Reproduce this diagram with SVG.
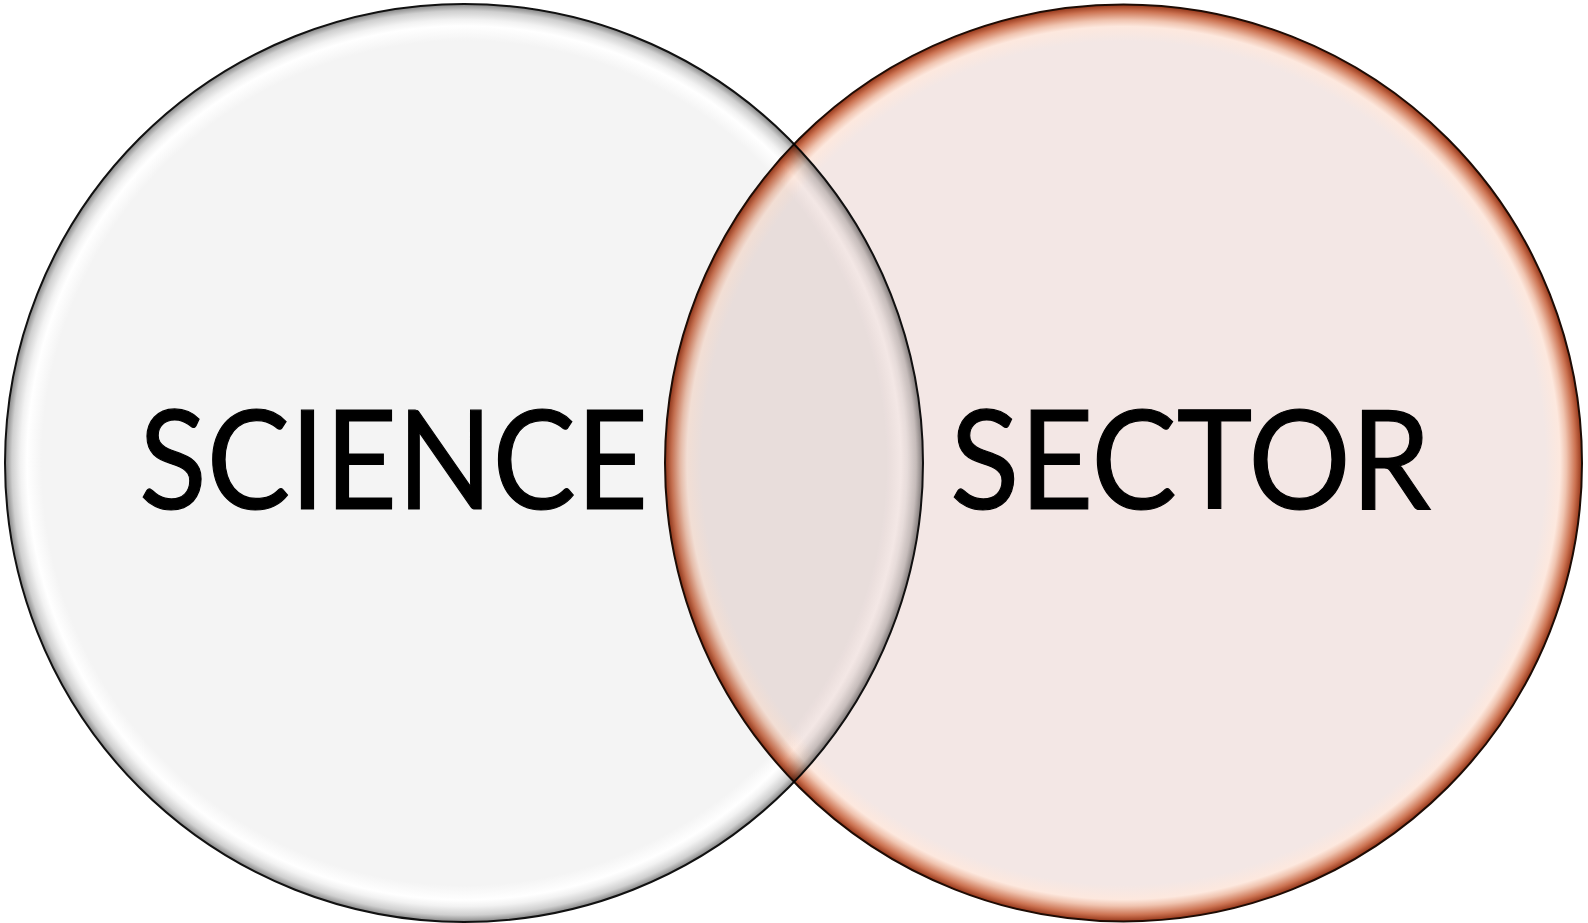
<svg xmlns="http://www.w3.org/2000/svg" width="1588" height="923" viewBox="0 0 1588 923">
  <defs>
    <radialGradient id="gLeft" cx="0.5" cy="0.5" r="0.5">
      <stop offset="0" stop-color="#f4f4f4"/>
      <stop offset="0.92" stop-color="#f4f4f4"/>
      <stop offset="0.952" stop-color="#ffffff"/>
      <stop offset="0.966" stop-color="#f2f2f2"/>
      <stop offset="0.985" stop-color="#cfcfcf"/>
      <stop offset="1" stop-color="#858585"/>
    </radialGradient>
    <radialGradient id="gRight" cx="0.5" cy="0.5" r="0.5">
      <stop offset="0" stop-color="#f3e7e5"/>
      <stop offset="0.92" stop-color="#f3e7e5"/>
      <stop offset="0.952" stop-color="#fde8de"/>
      <stop offset="0.966" stop-color="#f0c4b0"/>
      <stop offset="0.986" stop-color="#cc7352"/>
      <stop offset="1" stop-color="#943518"/>
    </radialGradient>
    <style>
      .lbl { font-family: Lato, "Open Sans", sans-serif; font-size: 137px; fill: #000; stroke: #000; stroke-width: 1.2px; }
    </style>
  </defs>
  <rect width="1588" height="923" fill="#ffffff"/>
  <g id="science">
    <circle cx="464" cy="463" r="459" fill="url(#gLeft)" stroke="#111" stroke-width="2"/>
  </g>
  <g id="sector" style="mix-blend-mode:multiply">
    <circle cx="1123.5" cy="463" r="458.5" fill="url(#gRight)" stroke="#1e0c05" stroke-width="2"/>
  </g>
  <g id="labels">
    <text class="lbl" x="139" y="509" textLength="509" lengthAdjust="spacingAndGlyphs">SCIENCE</text>
    <text class="lbl" x="950" y="509" textLength="481" lengthAdjust="spacingAndGlyphs">SECTOR</text>
  </g>
  <g id="connectors"/>
</svg>
